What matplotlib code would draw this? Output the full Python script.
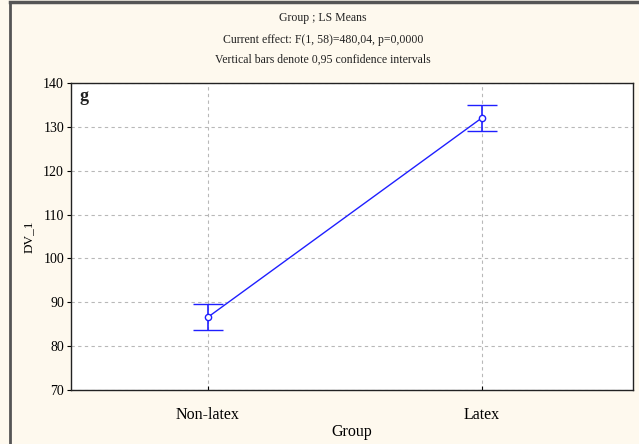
#!/usr/bin/env python

import numpy as np
import matplotlib
matplotlib.use('Agg')
import matplotlib.pyplot as plt
from matplotlib.lines import Line2D

# data
groups = ['Non-latex', 'Latex']
means = [86.6, 132.0]
ci_half = [2.95, 2.9]
yticks = [70, 80, 90, 100, 110, 120, 130, 140]

title_lines = [
    'Group ; LS Means',
    'Current effect: F(1, 58)=480,04, p=0,0000',
    'Vertical bars denote 0,95 confidence intervals',
]

BG = '#fef9ee'
BLUE = '#1f1fff'

plt.rcParams['font.family'] = ['Liberation Serif', 'DejaVu Serif']

fig = plt.figure(figsize=(6.39, 4.44), dpi=100, facecolor=BG)
W, H = 639, 444
ax = fig.add_axes((71 / W, 1 - 390 / H, (633 - 71) / W, (390 - 83) / H))
ax.set_facecolor('white')

x = np.arange(len(groups))
ax.errorbar(x, means, yerr=ci_half, color=BLUE, lw=1.0, elinewidth=1.2,
            capsize=10.5, capthick=1.2, marker='o', ms=4.5,
            mfc='white', mec=BLUE, mew=1.0, zorder=3)

ax.set_xlim(-0.5, 1.553)
ax.set_ylim(70, 140)
ax.set_yticks(yticks)
ax.set_xticks(x)
ax.set_xticklabels(groups, fontsize=11.5)
ax.tick_params(axis='y', labelsize=10, length=3, width=0.8, direction='out', pad=2)
ax.tick_params(axis='x', length=3, width=0.8, direction='in', pad=12)
ax.grid(True, color='#b8b8b8', ls=(0, (3, 3)), lw=0.8)
ax.set_axisbelow(True)
for s in ax.spines.values():
    s.set_linewidth(1.0)
    s.set_color('#222222')

ax.set_ylabel('DV_1', fontsize=9.5, labelpad=6)
ax.set_xlabel('Group', fontsize=11.5, labelpad=1)
ax.text(0.015, 0.985, 'g', transform=ax.transAxes, fontsize=13,
        fontweight='bold', va='top', ha='left', color='#222222')

for ty, line in zip([18, 40, 60], title_lines):
    fig.text(323 / W, 1 - ty / H, line, fontsize=8.5, ha='center',
             va='center', color='#222222')

# frame lines at the left and top of the figure
fig.add_artist(Line2D([10 / W, 10 / W], [0, 1 - 2 / H], transform=fig.transFigure,
                      color='#555555', lw=2))
fig.add_artist(Line2D([10 / W, 1], [1 - 2 / H, 1 - 2 / H], transform=fig.transFigure,
                      color='#555555', lw=2.5))

fig.savefig('out.png', dpi=100, facecolor=BG)
